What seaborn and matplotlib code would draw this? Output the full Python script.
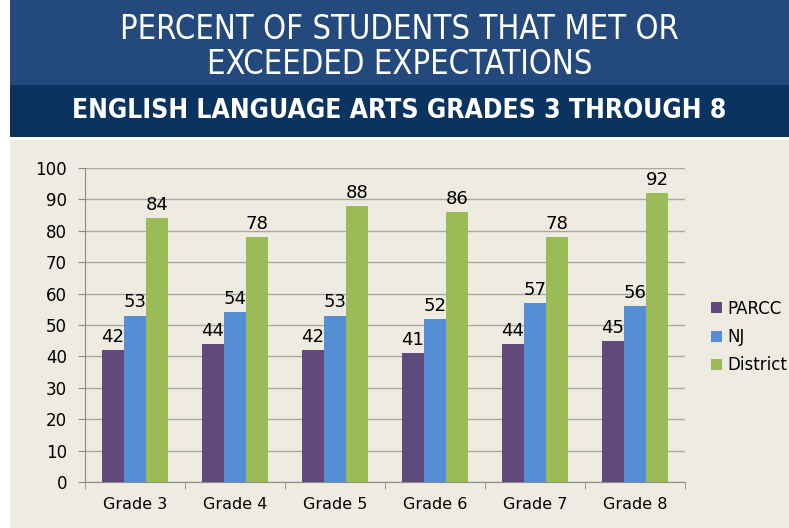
import pandas as pd
import numpy as np
import matplotlib.pyplot as plt
import seaborn as sns
from matplotlib.patches import Rectangle

grades = ["Grade 3", "Grade 4", "Grade 5", "Grade 6", "Grade 7", "Grade 8"]
parcc = [42, 44, 42, 41, 44, 45]
nj = [53, 54, 53, 52, 57, 56]
district = [84, 78, 88, 86, 78, 92]
series = ["PARCC", "NJ", "District"]
colors = ["#604A7B", "#558ED5", "#9BBB59"]

df = pd.DataFrame({"grade": grades * 3,
                   "group": np.repeat(series, len(grades)),
                   "pct": parcc + nj + district})

sns.set_style("white")
plt.rcParams["font.family"] = ["DejaVu Sans"]
plt.rcParams["text.color"] = "black"

fig = plt.figure(figsize=(7.89, 5.28), dpi=100)
fig.patch.set_facecolor("white")

# background bands
for y0, h, c in [(1-85/528, 85/528, "#24497C"),
                 (1-137/528, 52/528, "#0B3360"),
                 (0, 1-140/528, "#EEECE1")]:
    fig.patches.append(Rectangle((10/789, y0), 779/789, h, transform=fig.transFigure,
                                 facecolor=c, edgecolor="none", zorder=-5))

fig.text(0.5 + 5/789, 1-47/528, "PERCENT OF STUDENTS THAT MET OR\nEXCEEDED EXPECTATIONS",
         ha="center", va="center", color="white", fontsize=23.5, fontstretch="condensed",
         linespacing=1.08)
fig.text(0.5 + 5/789, 1-111/528, "ENGLISH LANGUAGE ARTS GRADES 3 THROUGH 8",
         ha="center", va="center", color="white", fontsize=19, fontweight="bold",
         fontstretch="condensed")

ax = fig.add_axes([85/789, 1-482/528, 600/789, 314/528])
ax.set_facecolor("none")
sns.barplot(data=df, x="grade", y="pct", hue="group", hue_order=series, palette=colors,
            width=0.66, gap=0, saturation=1, linewidth=0, ax=ax, zorder=3)

for cont in ax.containers:
    ax.bar_label(cont, fontsize=13, padding=3, color="black")

ax.set_ylim(0, 100)
ax.set_xlim(-0.5, 5.5)
ax.set_yticks(range(0, 101, 10))
ax.yaxis.grid(True, color="#A6A6A6", linewidth=1, zorder=0)
ax.set_axisbelow(True)
ax.set_xlabel("")
ax.set_ylabel("")
for s in ["top", "right"]:
    ax.spines[s].set_visible(False)
for s in ["left", "bottom"]:
    ax.spines[s].set_color("#8C8C8C")
ax.tick_params(axis="y", labelsize=12, length=5, color="#8C8C8C", labelcolor="black",
               left=True, pad=8)
ax.tick_params(axis="x", labelsize=11.5, length=0, pad=11, labelcolor="black")
for t in ax.get_xticklabels():
    t.set_fontweight("medium")
ax.set_xticks(np.arange(-0.5, 6, 1), minor=True)
ax.tick_params(axis="x", which="minor", length=5, color="#8C8C8C", bottom=True)

ax.legend_.remove()
handles, labels = ax.get_legend_handles_labels()
fig.legend(handles, labels, loc="center left", bbox_to_anchor=(696/789, 1-337/528),
           frameon=False, fontsize=12, handlelength=0.65, handleheight=0.65,
           handletextpad=0.35, labelspacing=0.62, labelcolor="black")

fig.savefig("out.png", dpi=100)
